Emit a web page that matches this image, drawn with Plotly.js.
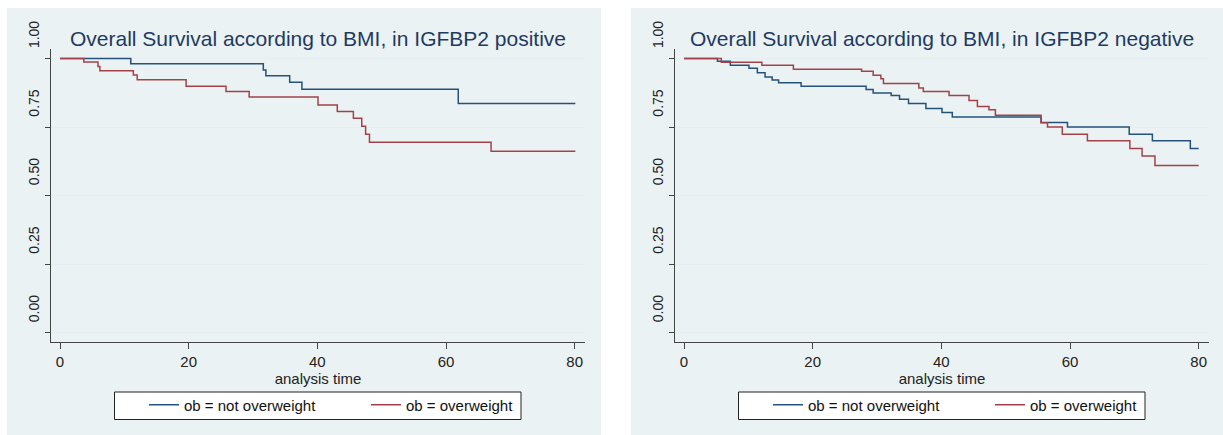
<!DOCTYPE html>
<html>
<head>
<meta charset="utf-8">
<script src="https://cdn.plot.ly/plotly-3.0.1.min.js"></script>
<style>html,body{margin:0;padding:0;background:#fff;}#chart{width:1223px;height:435px;}</style>
</head>
<body>
<div id="chart"></div>
<script>
// ---- Data ----
// IGFBP2 positive
var posNotOwTime = [0, 11, 31.6, 32, 35.7, 37.6, 61.9, 80.1];
var posNotOwSurv = [1, 0.981, 0.958, 0.937, 0.914, 0.888, 0.836, 0.836];
var posOwTime = [0, 3.7, 5.9, 6.2, 11.4, 12, 19.6, 25.8, 29.4, 40.1, 43.1, 45.6, 46.9, 47.5, 48.1, 67.0, 80.1];
var posOwSurv = [1, 0.988, 0.971, 0.956, 0.94, 0.923, 0.899, 0.88, 0.86, 0.831, 0.807, 0.782, 0.753, 0.724, 0.695, 0.662, 0.662];
// IGFBP2 negative
var negNotOwTime = [0, 5.2, 7.2, 10.1, 11.4, 12.6, 13.7, 14.7, 18.2, 28.3, 29.4, 32.2, 33.5, 34.9, 37.6, 40.1, 41.7, 55.5, 59.6, 69.2, 72.8, 78.7, 80];
var negNotOwSurv = [1, 0.99, 0.976, 0.965, 0.948, 0.933, 0.922, 0.912, 0.899, 0.887, 0.874, 0.865, 0.852, 0.836, 0.818, 0.803, 0.787, 0.767, 0.75, 0.724, 0.70, 0.672, 0.672];
var negOwTime = [0, 5.8, 12.1, 17.0, 27.6, 29.4, 30.6, 31.0, 36.5, 37.2, 41.2, 44.3, 45.6, 47.4, 48.4, 55.5, 56.5, 58.8, 62.7, 69.3, 71.2, 73.2, 80];
var negOwSurv = [1, 0.987, 0.976, 0.961, 0.954, 0.939, 0.926, 0.909, 0.893, 0.88, 0.865, 0.847, 0.825, 0.813, 0.793, 0.766, 0.75, 0.724, 0.70, 0.672, 0.645, 0.61, 0.61];

var seriesNames = ["ob = not overweight", "ob = overweight"];
var panelTitles = ["Overall Survival according to BMI, in IGFBP2 positive",
                   "Overall Survival according to BMI, in IGFBP2 negative"];
var xTickVals = [0, 20, 40, 60, 80];
var yTickVals = [0, 0.25, 0.5, 0.75, 1];
var xTitle = "analysis time";

// ---- Styling ----
var W = 1223, H = 435;
var BLUE = "#24527c", RED = "#a3424a";
var BG = "#eaf2f3";
var FONT = "Liberation Sans, Arial, sans-serif";
function px(x){return x / W;}
function py(y){return 1 - y / H;}

function trace(t, s, name, color, xa, ya, leg){
  return {x: t, y: s, name: name, type: "scatter", mode: "lines",
    line: {shape: "hv", color: color, width: 1.5},
    xaxis: xa, yaxis: ya, legend: leg, hoverinfo: "x+y"};
}

var data = [
  trace(posNotOwTime, posNotOwSurv, seriesNames[0], BLUE, "x", "y", "legend"),
  trace(posOwTime, posOwSurv, seriesNames[1], RED, "x", "y", "legend2"),
  trace(negNotOwTime, negNotOwSurv, seriesNames[0], BLUE, "x2", "y2", "legend3"),
  trace(negOwTime, negOwSurv, seriesNames[1], RED, "x2", "y2", "legend4")
];

function xaxis(domain, anchor){
  return {domain: domain, anchor: anchor, range: [-1.4, 81.6],
    tickvals: xTickVals, ticks: "outside", ticklen: 6, tickwidth: 1, tickcolor: "#444",
    showline: true, linecolor: "#444", linewidth: 1, showgrid: false, zeroline: false,
    tickfont: {family: FONT, size: 15, color: "#222"},
    title: {text: xTitle, font: {family: FONT, size: 15, color: "#222"}, standoff: 2}};
}
function yaxis(anchor){
  return {domain: [py(341.7), py(49)], anchor: anchor, range: [-0.033, 1.035],
    tickvals: yTickVals, tickformat: ".2f", tickangle: -90, ticklabelshift: -22,
    ticks: "outside", ticklen: 5, tickwidth: 1, tickcolor: "#444",
    showline: true, linecolor: "#444", linewidth: 1,
    showgrid: true, gridcolor: "#e4eef0", gridwidth: 1, zeroline: false,
    tickfont: {family: FONT, size: 14, color: "#222"}};
}
function legend(xText){
  return {x: px(xText - 40), xanchor: "left", y: py(405), yanchor: "middle",
    orientation: "h", bgcolor: "rgba(0,0,0,0)", borderwidth: 0,
    font: {family: FONT, size: 15, color: "#111"}};
}

var layout = {
  width: W, height: H,
  margin: {l: 0, r: 0, t: 0, b: 0},
  paper_bgcolor: "#fff", plot_bgcolor: "#fff",
  showlegend: true,
  xaxis: xaxis([px(51), px(585)], "y"),
  yaxis: yaxis("x"),
  xaxis2: xaxis([px(675), px(1209)], "y2"),
  yaxis2: yaxis("x2"),
  legend: legend(184),
  legend2: legend(406),
  legend3: legend(808),
  legend4: legend(1030),
  shapes: [
    {type: "rect", xref: "paper", yref: "paper", x0: px(7), x1: px(601), y0: 0, y1: py(8), fillcolor: BG, line: {width: 0}, layer: "below"},
    {type: "rect", xref: "paper", yref: "paper", x0: px(631), x1: 1, y0: 0, y1: py(8), fillcolor: BG, line: {width: 0}, layer: "below"},
    {type: "rect", xref: "paper", yref: "paper", x0: px(114.5), x1: px(521), y0: py(419.5), y1: py(392), fillcolor: "#fff", line: {width: 1, color: "#222"}, layer: "below"},
    {type: "rect", xref: "paper", yref: "paper", x0: px(738.5), x1: px(1145), y0: py(419.5), y1: py(392), fillcolor: "#fff", line: {width: 1, color: "#222"}, layer: "below"}
  ],
  annotations: [
    {text: panelTitles[0], xref: "paper", yref: "paper", x: px(318), y: py(39), xanchor: "center", yanchor: "middle", showarrow: false, font: {family: FONT, size: 21, color: "#1f3a63"}},
    {text: panelTitles[1], xref: "paper", yref: "paper", x: px(942), y: py(39), xanchor: "center", yanchor: "middle", showarrow: false, font: {family: FONT, size: 21, color: "#1f3a63"}}
  ]
};

Plotly.newPlot("chart", data, layout, {displayModeBar: false, staticPlot: true});
</script>
</body>
</html>
